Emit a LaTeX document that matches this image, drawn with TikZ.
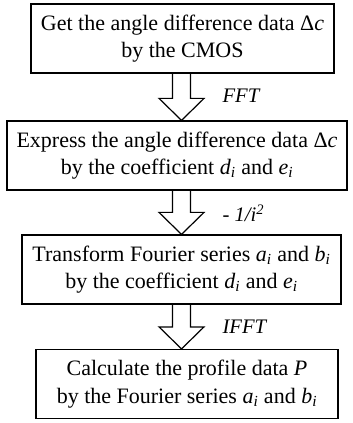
\documentclass[tikz,border=0pt]{standalone}
\usepackage{fontspec}
\setmainfont{Liberation Serif}
\usetikzlibrary{calc}

\newcommand{\vsub}[2]{\textit{#1}\textsubscript{\textit{#2}}}
% hollow block arrow from the bottom of one box to the top of the next
\newcommand{\fatarrow}[2]{%
\draw[line join=miter] ($(#1.south -| ax)+(-9,0)$) -- ($(#2.north -| ax)+(-9,-22)$) -- ($(#2.north -| ax)+(-22.5,-22)$) -- (#2.north -| ax) -- ($(#2.north -| ax)+(22.5,-22)$) -- ($(#2.north -| ax)+(9,-22)$) -- ($(#1.south -| ax)+(9,0)$);}

\tikzset{
 stepbox/.style={draw, line width=0.9pt, rectangle, align=center, minimum height=51.75pt, inner sep=0pt, font=\fontsize{16.5}{20.5}\selectfont},
 oplabel/.style={anchor=west, inner sep=0.75pt, font=\fontsize{15.5}{17}\selectfont\itshape}
}

\begin{document}
\begin{tikzpicture}[x=0.75pt,y=0.75pt,yscale=-1,xscale=1, line width=0.9pt]
\useasboundingbox (0,0) rectangle (352,423);

\coordinate (ax) at (181.5,0);

% Boxes
\node[stepbox, minimum width=227.25pt] (get) at (182.5,38.5) {Get the angle difference data Δ\textit{c}\\by the CMOS};
\node[stepbox, minimum width=255pt] (express) at (177,155.5) {Express the angle difference data Δ\textit{c}\\by the coefficient \vsub{d}{i} and \vsub{e}{i}};
\node[stepbox, minimum width=239.25pt] (transform) at (181.5,269.5) {Transform Fourier series \vsub{a}{i} and \vsub{b}{i}\\by the coefficient \vsub{d}{i} and \vsub{e}{i}};
\node[stepbox, minimum width=226.5pt] (calc) at (187,384) {Calculate the profile data \textit{P}\\by the Fourier series \vsub{a}{i} and \vsub{b}{i}};

% Arrows
\fatarrow{get}{express}
\fatarrow{express}{transform}
\fatarrow{transform}{calc}

% Labels
\node[oplabel] (fft) at (221,96) {FFT};
\node[oplabel] (inv) at (221,213) {- 1/i\textsuperscript{2}};
\node[oplabel] (ifft) at (221,327) {IFFT};

\end{tikzpicture}
\end{document}
